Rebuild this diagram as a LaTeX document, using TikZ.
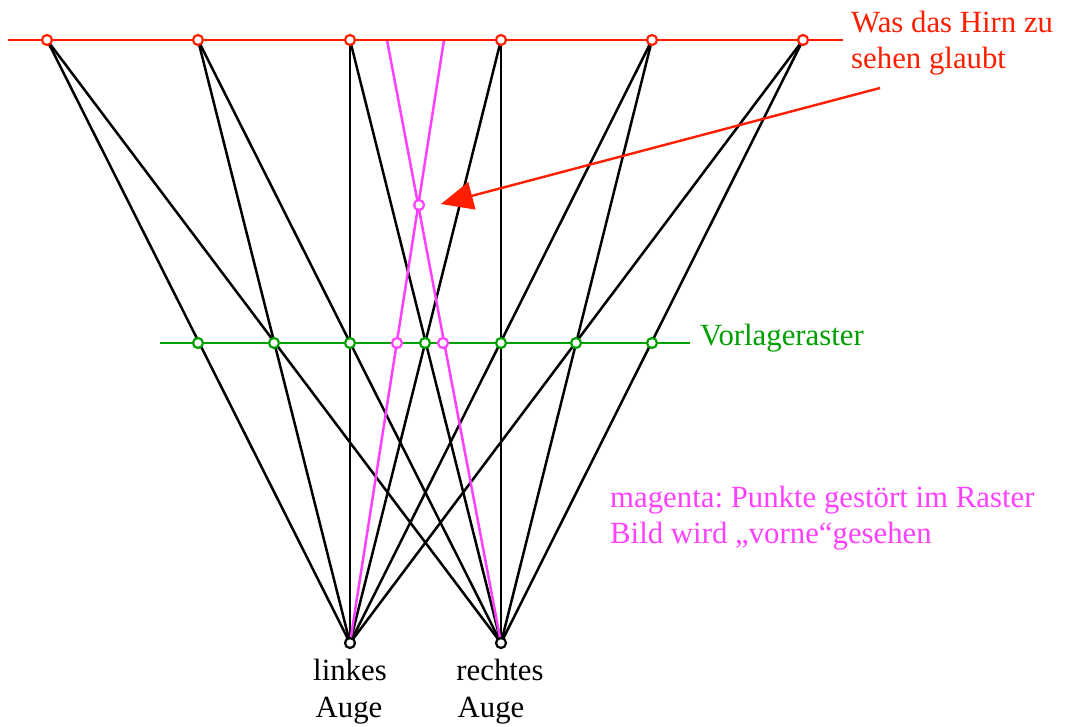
\documentclass[tikz,border=0pt]{standalone}
\usepackage{fontspec}
\setmainfont{Liberation Serif}
\usetikzlibrary{arrows.meta}
\pgfdeclarelayer{bg}
\pgfsetlayers{bg,main}
\definecolor{myred}{RGB}{255,30,0}
\definecolor{mygreen}{RGB}{0,160,0}
\definecolor{mymag}{RGB}{255,64,255}
\frenchspacing
\tikzset{
  pt/.style={circle,draw=#1,fill=white,line width=2.2pt,inner sep=0pt,minimum size=10pt},
  ray/.style={black,line width=2.5pt},
  mray/.style={mymag,line width=2.5pt},
  lbl/.style={font=\fontsize{30.8}{37}\selectfont,inner sep=0pt,anchor=base west}
}
\begin{document}
\begin{tikzpicture}[x=1pt,y=-1pt]
\useasboundingbox (0,0) rectangle (1066,727);
% top (red) points
\foreach \i/\x in {1/47,2/198,3/350,4/501,5/652,6/803}
  \node[pt=myred] (T\i) at (\x,40) {};
% green points
\foreach \i/\x in {1/198,2/274,3/350,4/425,5/501,6/576,7/652}
  \node[pt=mygreen] (G\i) at (\x,343) {};
\node[pt=mymag] (GM1) at (397,343) {};
\node[pt=mymag] (GM2) at (443,343) {};
\node[pt=mymag] (X) at (419,205) {};
% eyes
\node[pt=black] (L) at (350,643) {};
\node[pt=black] (R) at (501,643) {};
\coordinate (M1) at (444,40);
\coordinate (M2) at (387,40);
\coordinate (RL) at (8,40);
\coordinate (RR) at (843,40);
\coordinate (GL) at (160,343);
\coordinate (GR) at (690,343);
\begin{pgfonlayer}{bg}
  \foreach \i in {1,...,6} {
    \draw[ray] (L.center) -- (T\i.center);
    \draw[ray] (R.center) -- (T\i.center);
  }
  \draw[mray] (L.center) -- (M1);
  \draw[mray] (R.center) -- (M2);
  \draw[myred,line width=2.7pt] (RL) -- (RR);
  \draw[mygreen,line width=2.7pt] (GL) -- (GR);
\end{pgfonlayer}
% labels
\node[lbl,text=myred] (h1) at (851,33) {Was das Hirn zu};
\node[lbl,text=myred] (h2) at (851,69) {sehen glaubt};
\node[lbl,text=mygreen] (v) at (700,345) {Vorlageraster};
\node[lbl,text=mymag] (m1) at (610,507) {magenta: Punkte gestört im Raster};
\node[lbl,text=mymag] (m2) at (610,543) {Bild wird „vorne“gesehen};
\node[lbl,anchor=base] (l1) at (350,680) {linkes};
\node[lbl,anchor=base] (l2) at (349,717) {Auge};
\node[lbl,anchor=base] (r1) at (500,680) {rechtes};
\node[lbl,anchor=base] (r2) at (491,717) {Auge};
% arrow
\coordinate (A0) at (880,88);
\coordinate (A1) at (441,204);
\draw[myred,line width=2.4pt,-{Triangle[length=32pt,width=28pt]}] (A0) -- (A1);
\end{tikzpicture}
\end{document}
